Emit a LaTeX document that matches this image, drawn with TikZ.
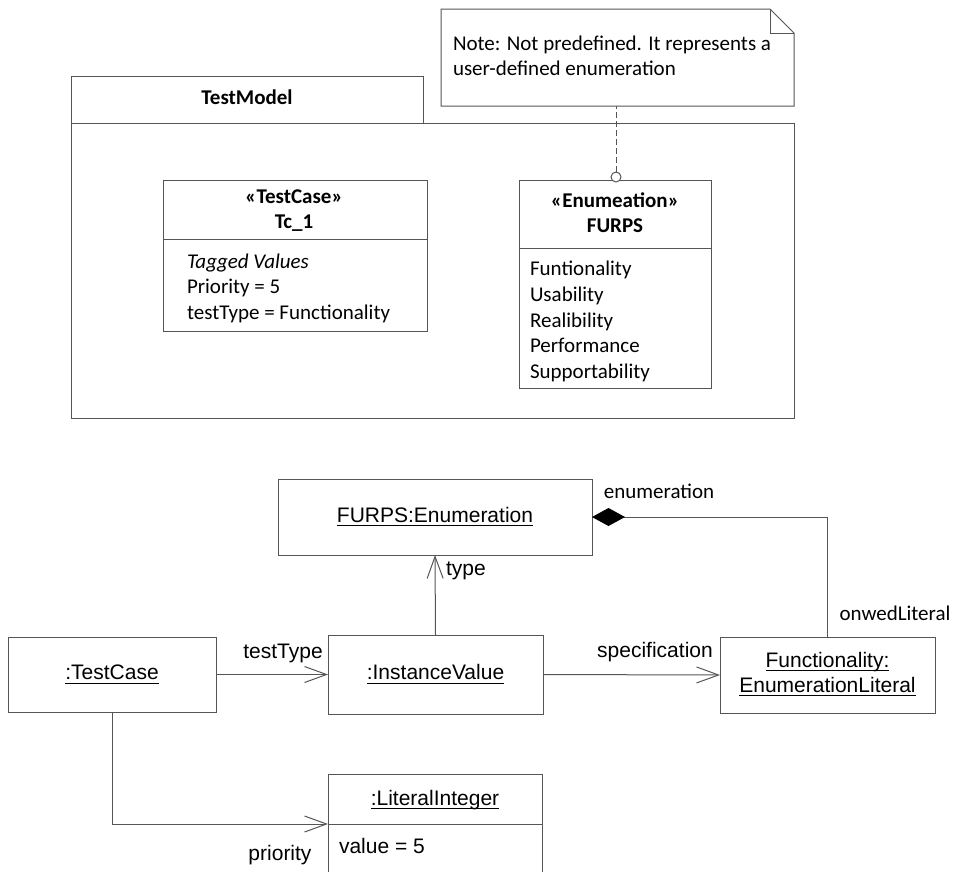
\documentclass[tikz,border=0pt]{standalone}
\usepackage{fontspec}
\setmainfont{Carlito}
\newfontfamily\arialf{Liberation Sans}
\usetikzlibrary{arrows.meta}
\definecolor{ln}{RGB}{85,85,85}
\newcommand\calsz{\fontsize{21}{25}\selectfont}
\newcommand\arisz{\arialf\fontsize{21}{25}\selectfont}
\newcommand\myul[1]{\leavevmode\setbox0=\hbox{#1}\rlap{\vrule height -3pt depth 4.2pt width \wd0}\box0}
\begin{document}
\begin{tikzpicture}[x=1pt,y=-1pt,
  every node/.style={inner sep=0pt, outer sep=0pt},
  boxshape/.style={draw=ln, line width=1pt, rectangle, text height=15pt, text depth=5pt},
  lbl/.style={text height=15pt, text depth=5pt},
  conn/.style={draw=ln, line width=1pt},
  openarrow/.style={-{Straight Barb[length=22pt,width=16pt]}},
  composite/.style={{Diamond[length=33pt,width=18pt,color=black]}-}]
\useasboundingbox (0,0) rectangle (953,871);

% ---------- package ----------
\node[boxshape, minimum width=723pt, minimum height=295pt] (pkg) at (432.5,270.5) {};
\node[boxshape, minimum width=352pt, minimum height=47pt, font=\calsz\bfseries] (tab) at (247,99.5) {TestModel};

% ---------- Tc_1 ----------
\node[boxshape, minimum width=264pt, minimum height=151pt] (tc1) at (295,256) {};
\draw[conn] (163,239.5) -- (427,239.5);
\node[lbl, font=\calsz\bfseries] (tc1st) at (294,198) {«TestCase»};
\node[lbl, font=\calsz\bfseries] (tc1nm) at (294,223) {Tc\_1};
\node[lbl, font=\calsz\itshape, anchor=west] (tc1a) at (187,263) {Tagged Values};
\node[lbl, font=\calsz, anchor=west] (tc1b) at (187,288) {Priority = 5};
\node[lbl, font=\calsz, anchor=west] (tc1c) at (187,314) {testType = Functionality};

% ---------- FURPS ----------
\node[boxshape, minimum width=192pt, minimum height=208pt] (furps) at (615,284) {};
\draw[conn] (519,248) -- (711,248);
\node[lbl, font=\calsz\bfseries] (fst) at (615,202) {«Enumeation»};
\node[lbl, font=\calsz\bfseries] (fnm) at (615,227) {FURPS};
\node[lbl, font=\calsz, anchor=west] (f1) at (530,270) {Funtionality};
\node[lbl, font=\calsz, anchor=west] (f2) at (530,296) {Usability};
\node[lbl, font=\calsz, anchor=west] (f3) at (530,322) {Realibility};
\node[lbl, font=\calsz, anchor=west] (f4) at (530,347.5) {Performance};
\node[lbl, font=\calsz, anchor=west] (f5) at (530,373) {Supportability};

% ---------- note ----------
\node[minimum width=353pt, minimum height=97pt, anchor=north west] (note) at (441,9) {};
\draw[conn, fill=white] (note.north west) -- ([xshift=-24pt]note.north east)
  -- ([yshift=-24pt]note.north east) -- (note.south east) -- (note.south west) -- cycle;
\draw[conn] ([xshift=-24pt]note.north east) -- ([xshift=-24pt,yshift=-24pt]note.north east)
  -- ([yshift=-24pt]note.north east);
\node[lbl, font=\calsz, anchor=west] (n1) at (453,45) {Note: Not predefined. It represents a};
\node[lbl, font=\calsz, anchor=west] (n2) at (453,70) {user-defined enumeration};
\node[circle, draw=ln, line width=1pt, fill=white, minimum size=10pt] (knob) at (616,177) {};
\draw[conn, dash pattern=on 6pt off 3pt] (knob.north) -- (knob.north |- note.south);

% ---------- instance diagram ----------
\node[boxshape, minimum width=314pt, minimum height=76pt, font=\arisz] (fe) at (435,517) {\myul{FURPS:Enumeration}};
\node[boxshape, minimum width=208pt, minimum height=75pt, font=\arisz] (tc) at (112,674.5) {\myul{:TestCase}};
\node[boxshape, minimum width=215pt, minimum height=79pt, font=\arisz] (iv) at (435.5,674.5) {\myul{:InstanceValue}};
\node[boxshape, minimum width=215pt, minimum height=76pt] (fl) at (827.5,675) {};
\node[lbl, font=\arisz] (fl1) at (827.5,662) {\myul{Functionality:}};
\node[lbl, font=\arisz] (fl2) at (827.5,687) {\myul{EnumerationLiteral}};
\node[boxshape, minimum width=214pt, minimum height=130pt, anchor=north west] (li) at (328,774) {};
\draw[conn] (328,824) -- (542,824);
\coordinate (lidiv) at (328,824);
\node[lbl, font=\arisz] (lin) at (435,800) {\myul{:LiteralInteger}};
\node[lbl, font=\arisz, anchor=west] (liv) at (339,848) {value = 5};

% connectors
\draw[conn, openarrow] (tc.east) -- (iv.west);
\draw[conn, openarrow] (iv.north) -- (fe.south);
\draw[conn, openarrow] (iv.east) -- (fl.west);
\draw[conn, openarrow] (tc.south) |- (lidiv);
\draw[conn, composite] (fe.east) -| (fl.north);

% labels
\node[lbl, font=\arisz] (ltt) at (283,653) {testType};
\node[lbl, font=\arisz] (lty) at (466,570) {type};
\node[lbl, font=\arisz] (lsp) at (655,652) {specification};
\node[lbl, font=\arisz] (lpr) at (280,855) {priority};
\node[lbl, font=\calsz] (len) at (659,493) {enumeration};
\node[lbl, font=\calsz] (lol) at (895,615) {onwedLiteral};
\end{tikzpicture}
\end{document}
